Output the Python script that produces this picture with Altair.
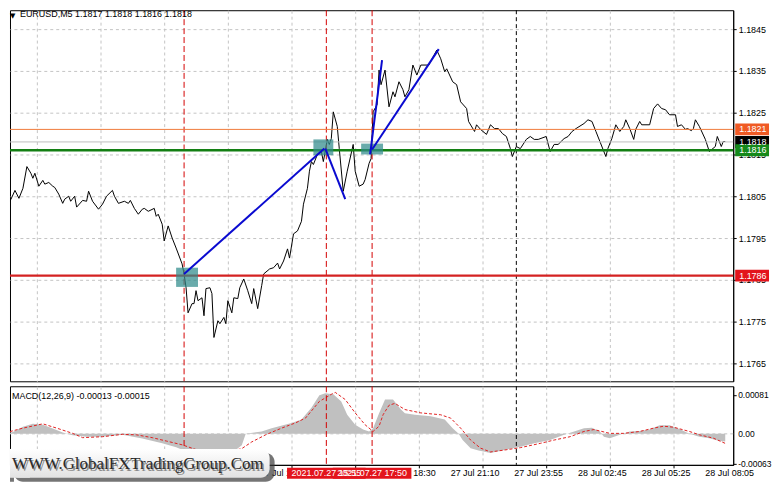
import altair as alt
import pandas as pd

# ---------------- data ----------------
bars = [0, 3, 5, 7, 9, 11, 13, 14, 15, 17,
        19, 20, 22, 24, 25, 27, 29, 30, 32, 33,
        35, 36, 39, 41, 42, 44, 47, 49, 51, 54,
        55, 57, 60, 62, 63, 65, 67, 69, 70, 72,
        75, 76, 77, 79, 80, 82, 84, 86, 89, 90,
        91, 92, 94, 95, 96, 97, 99, 100, 101, 103,
        104, 105, 107, 108, 110, 111, 112, 114, 115, 117,
        118, 120, 122, 124, 125, 127, 129, 130, 133, 135,
        137, 138, 140, 142, 143, 145, 147, 149, 150, 152,
        153, 154, 155, 157, 159, 160, 162, 163, 164, 165,
        167, 168, 170, 172, 175, 176, 178, 180, 181, 183,
        184, 185, 187, 188, 189, 191, 193, 195, 196, 198,
        200, 201, 203, 205, 207, 209, 213, 217, 219, 221,
        222, 225, 227, 229, 232, 233, 236, 237, 239, 242,
        244, 246, 248, 250, 252, 254, 255, 257, 259, 262,
        264, 266, 268, 272, 274, 276, 278, 281, 283, 285,
        287, 291, 293, 295, 297, 299, 302, 303, 305, 307,
        309, 311, 312, 314, 316, 317, 319, 320, 324, 326,
        328, 330, 332, 334, 337, 338, 340, 342, 343, 345,
        346, 347, 349, 352, 354, 357, 358, 360, 361, 362]
prices = [1.18024, 1.18043, 1.18064, 1.18045, 1.18069, 1.18121, 1.18105, 1.18093, 1.18105, 1.18074,
          1.18088, 1.18079, 1.18083, 1.18074, 1.18071, 1.18055, 1.18033, 1.18043, 1.18050, 1.18038,
          1.18050, 1.18024, 1.18040, 1.18038, 1.18062, 1.18038, 1.18019, 1.18031, 1.18050, 1.18064,
          1.18050, 1.18033, 1.18038, 1.18033, 1.18040, 1.18021, 1.18007, 1.18019, 1.18021, 1.18014,
          1.18021, 1.18002, 1.18007, 1.17983, 1.17943, 1.17979, 1.17950, 1.17926, 1.17888, 1.17864,
          1.17831, 1.17771, 1.17793, 1.17793, 1.17824, 1.17800, 1.17807, 1.17764, 1.17829, 1.17831,
          1.17817, 1.17712, 1.17752, 1.17745, 1.17760, 1.17745, 1.17800, 1.17771, 1.17807, 1.17805,
          1.17831, 1.17852, 1.17824, 1.17793, 1.17829, 1.17781, 1.17836, 1.17864, 1.17876, 1.17879,
          1.17890, 1.17876, 1.17895, 1.17924, 1.17902, 1.17960, 1.17967, 1.17990, 1.18031, 1.18069,
          1.18110, 1.18133, 1.18126, 1.18150, 1.18157, 1.18133, 1.18186, 1.18174, 1.18188, 1.18252,
          1.18217, 1.18164, 1.18062, 1.18110, 1.18174, 1.18110, 1.18074, 1.18079, 1.18090, 1.18129,
          1.18140, 1.18252, 1.18269, 1.18352, 1.18317, 1.18352, 1.18264, 1.18300, 1.18288, 1.18324,
          1.18305, 1.18288, 1.18305, 1.18364, 1.18340, 1.18364, 1.18364, 1.18400, 1.18379, 1.18348,
          1.18355, 1.18324, 1.18317, 1.18276, 1.18260, 1.18229, 1.18205, 1.18221, 1.18210, 1.18198,
          1.18221, 1.18212, 1.18212, 1.18200, 1.18193, 1.18164, 1.18145, 1.18169, 1.18164, 1.18186,
          1.18193, 1.18186, 1.18186, 1.18193, 1.18157, 1.18174, 1.18174, 1.18188, 1.18193, 1.18205,
          1.18212, 1.18224, 1.18233, 1.18229, 1.18205, 1.18181, 1.18145, 1.18164, 1.18188, 1.18221,
          1.18205, 1.18217, 1.18233, 1.18212, 1.18186, 1.18210, 1.18229, 1.18221, 1.18221, 1.18260,
          1.18271, 1.18260, 1.18257, 1.18245, 1.18245, 1.18217, 1.18221, 1.18210, 1.18212, 1.18207,
          1.18212, 1.18233, 1.18217, 1.18186, 1.18157, 1.18169, 1.18193, 1.18169, 1.18181, 1.18181]

hist_bars = [0, 4, 9, 14, 19, 24, 29, 34, 41, 49,
             59, 69, 79, 86, 90, 94, 99, 106, 114, 119,
             121, 129, 134, 144, 149, 154, 158, 161, 165, 169,
             172, 176, 180, 183, 185, 188, 191, 195, 199, 201,
             206, 214, 221, 225, 228, 230, 234, 238, 244, 251,
             259, 266, 274, 281, 286, 291, 295, 299, 301, 304,
             309, 314, 319, 324, 329, 334, 339, 344, 349, 354,
             359, 362]
hist_vals = [0.0, 0.00004, 0.00015, 0.00021, 0.00019, 0.00011, 0.00003, -0.00003, -0.00006, -0.00006,
             -0.00002, -0.0001, -0.0002, -0.00028, -0.00035, -0.00045, -0.0005, -0.00048, -0.0004, -0.00024,
             0.0, 0.00005, 0.00012, 0.00023, 0.0003, 0.00055, 0.00081, 0.00085, 0.00083, 0.00068,
             0.0004, 0.00019, 0.00009, 0.00005, 0.00012, 0.00043, 0.00072, 0.00072, 0.00051, 0.00043,
             0.0004, 0.00037, 0.0003, 0.00012, 0.0, -0.00013, -0.0003, -0.00035, -0.0004, -0.00034,
             -0.00027, -0.0002, -0.00013, -0.00002, 0.00005, 0.00012, 0.00013, 0.00005, -0.00006, -0.00009,
             -0.00002, 0.00005, 0.00006, 0.00009, 0.00018, 0.00018, 0.0001, 0.0, -0.00006, -0.00009,
             -0.00015, -0.00016]

sig_bars = [0, 9, 19, 26, 34, 39, 49, 59, 66, 74,
            81, 89, 96, 104, 111, 119, 124, 131, 139, 146,
            151, 158, 164, 166, 171, 176, 181, 185, 188, 190,
            193, 196, 201, 209, 219, 224, 229, 234, 239, 244,
            251, 259, 269, 276, 284, 291, 296, 304, 311, 319,
            326, 331, 336, 344, 349, 356, 362]
sig_vals = [0.00002, 0.00012, 0.00021, 0.00012, 0.00001, -0.00008, -0.00006, -0.00001, -0.00002, -0.00008,
            -0.00015, -0.00023, -0.00033, -0.0004, -0.00039, -0.00031, -0.00017, -0.00002, 0.00012, 0.00023,
            0.00033, 0.00068, 0.00083, 0.00087, 0.00072, 0.00044, 0.00019, 0.00005, 0.00016, 0.0004,
            0.0006, 0.00064, 0.00051, 0.00044, 0.0004, 0.00033, 0.00012, -0.00013, -0.0003, -0.00038,
            -0.00034, -0.00029, -0.0002, -0.00013, -0.00006, 0.00005, 0.00009, 0.00001, 0.00001, 0.00005,
            0.00012, 0.00016, 0.00014, 0.00005, -0.00002, -0.00009, -0.0002]

level_prices = [1.1821, 1.1818, 1.1816, 1.1786]
level_labels = ["1.1821", "1.1818", "1.1816", "1.1786"]
level_line_colors = ["#f07a3a", "#c0c0c0", "#137f13", "#d42222"]
level_box_colors = ["#f05a24", "#000000", "#15891a", "#e3141c"]
level_widths = [1, 1, 2.5, 2.5]

red_vline_bars = [90, 161.5, 184.5]
time_tag_bars = [161.5, 184.5]
time_tag_labels = ["2021.07.27 15:55", "2021.07.27 17:50"]
day_sep_bars = [257]

box_bar1 = [86, 155, 179]
box_bar2 = [97, 165, 190]
box_p1 = [1.17879, 1.18186, 1.18176]
box_p2 = [1.17833, 1.18148, 1.18150]

trend_bar1 = [90, 161, 183.5, 184.5]
trend_p1 = [1.17864, 1.18164, 1.18150, 1.18162]
trend_bar2 = [160.5, 171, 189.5, 218]
trend_p2 = [1.18164, 1.18043, 1.18376, 1.18402]

price_ticks = [1.1765, 1.1775, 1.1785, 1.1795, 1.1805, 1.1815, 1.1825, 1.1835, 1.1845]
macd_ticks = [0.00081, 0.0, -0.00063]
macd_tick_labels = ["0.00081", "0.00", "-0.00063"]
grid_bars = list(range(16, 366, 16))
label_bars = [128, 192, 224, 256, 288, 320, 352]
label_texts = ["27 Jul 13:10", "27 Jul 18:30", "27 Jul 21:10", "27 Jul 23:55", "28 Jul 02:45",
               "28 Jul 05:25", "28 Jul 08:05"]

title_text = "EURUSD,M5  1.1817 1.1818 1.1816 1.1818"
macd_text = "MACD(12,26,9) -0.00013 -0.00015"
watermark = "WWW.GlobalFXTradingGroup.Com"

# ---------------- layout ----------------
W, H1, H2 = 727, 373, 79
FONT = "Liberation Sans"
FS = 9

xscale = alt.Scale(domain=[2.5, 366], nice=False, zero=False)
yscale = alt.Scale(domain=[1.176071, 1.184952], nice=False, zero=False)
mscale = alt.Scale(domain=[-0.000651, 0.000999], nice=False, zero=False)

price_df = pd.DataFrame({"bar": bars, "price": prices})
hist_df = pd.DataFrame({"bar": hist_bars, "val": hist_vals})
sig_df = pd.DataFrame({"bar": sig_bars, "val": sig_vals})
lev_df = pd.DataFrame({"price": level_prices, "label": level_labels, "lc": level_line_colors,
                       "bc": level_box_colors, "lw": level_widths})
red_df = pd.DataFrame({"bar": red_vline_bars})
tag_df = pd.DataFrame({"bar": time_tag_bars, "label": time_tag_labels})
sep_df = pd.DataFrame({"bar": day_sep_bars})
box_df = pd.DataFrame({"b1": box_bar1, "b2": box_bar2, "p1": box_p1, "p2": box_p2})
trend_df = pd.DataFrame({"b1": trend_bar1, "b2": trend_bar2, "p1": trend_p1, "p2": trend_p2})
xlab_df = pd.DataFrame({"bar": label_bars, "t": label_texts})
mlab_df = pd.DataFrame({"v": macd_ticks, "t": macd_tick_labels})

grid_kw = dict(grid=True, gridDash=[3, 3], gridColor="#c4c4c4", gridWidth=1)

x_main_axis = alt.Axis(values=grid_bars, labels=False, ticks=False, domain=False, title=None,
                       orient="bottom", zindex=0, **grid_kw)
y_main_axis = alt.Axis(orient="right", values=price_ticks, format=".4f", title=None, tickSize=3,
                       labelPadding=2, tickColor="black", domainColor="black", labelColor="black",
                       labelFont=FONT, labelFontSize=FS, labelBaseline="middle",
                       labelOverlap=False, zindex=0, **grid_kw)

X = alt.X("bar:Q", scale=xscale, axis=x_main_axis)

line = alt.Chart(price_df).mark_line(color="black", strokeWidth=1, clip=True).encode(
    x=X, y=alt.Y("price:Q", scale=yscale, axis=y_main_axis))

red_v = alt.Chart(red_df).mark_rule(color="#d40000", strokeDash=[6, 3], strokeWidth=1).encode(
    x=alt.X("bar:Q", scale=xscale))
sep_v = alt.Chart(sep_df).mark_rule(color="black", strokeDash=[4, 3], strokeWidth=1).encode(
    x=alt.X("bar:Q", scale=xscale))

hlines = alt.Chart(lev_df).mark_rule().encode(
    y=alt.Y("price:Q", scale=yscale),
    color=alt.Color("lc:N", scale=None),
    strokeWidth=alt.StrokeWidth("lw:Q", scale=None))

boxes = alt.Chart(box_df).mark_rect(color="#2f8a8a", opacity=0.72).encode(
    x=alt.X("b1:Q", scale=xscale), x2="b2:Q",
    y=alt.Y("p1:Q", scale=yscale), y2="p2:Q")

trends = alt.Chart(trend_df).mark_rule(color="#0a0ad0", strokeWidth=2).encode(
    x=alt.X("b1:Q", scale=xscale), x2="b2:Q",
    y=alt.Y("p1:Q", scale=yscale), y2="p2:Q")

lab_boxes = alt.Chart(lev_df).mark_rect(yOffset=-6, y2Offset=6).encode(
    x=alt.value(W + 2), x2=alt.value(W + 36),
    y=alt.Y("price:Q", scale=yscale), y2="price:Q",
    color=alt.Color("bc:N", scale=None))
lab_text = alt.Chart(lev_df).mark_text(align="left", baseline="middle", color="white",
                                       font=FONT, fontSize=FS).encode(
    x=alt.value(W + 6), y=alt.Y("price:Q", scale=yscale), text="label:N")

title_df = pd.DataFrame({"t": [title_text]})
tri = alt.Chart(title_df).mark_text(text="\u25bc", align="left", baseline="top",
                                    font="DejaVu Sans", fontSize=7, color="black").encode(
    x=alt.value(0), y=alt.value(2))
ttl = alt.Chart(title_df).mark_text(align="left", baseline="top", font=FONT,
                                    fontSize=FS, color="black").encode(
    x=alt.value(10), y=alt.value(0), text="t:N")

main = alt.layer(line, red_v, sep_v, hlines, boxes, trends, lab_boxes, lab_text, tri, ttl).properties(
    width=W, height=H1)

# MACD panel
x_macd_axis = alt.Axis(values=grid_bars, labels=False, title=None, orient="bottom",
                       tickSize=3, tickColor="black", domainColor="black", zindex=0, **grid_kw)
y_macd_axis = alt.Axis(orient="right", values=macd_ticks, labels=False, title=None, tickSize=3,
                       tickColor="black", domainColor="black", grid=False, zindex=0)

hist = alt.Chart(hist_df).mark_area(color="#c0c0c0", clip=True).encode(
    x=alt.X("bar:Q", scale=xscale, axis=x_macd_axis),
    y=alt.Y("val:Q", scale=mscale, axis=y_macd_axis))
zero_df = pd.DataFrame({"v": [0.0]})
zero = alt.Chart(zero_df).mark_rule(color="#c4c4c4", strokeDash=[3, 3]).encode(
    y=alt.Y("v:Q", scale=mscale))
sig = alt.Chart(sig_df).mark_line(color="#e02020", strokeDash=[3, 2], strokeWidth=1, clip=True).encode(
    x=alt.X("bar:Q", scale=xscale), y=alt.Y("val:Q", scale=mscale))
red_v2 = alt.Chart(red_df).mark_rule(color="#d40000", strokeDash=[6, 3], strokeWidth=1).encode(
    x=alt.X("bar:Q", scale=xscale))
sep_v2 = alt.Chart(sep_df).mark_rule(color="black", strokeDash=[4, 3], strokeWidth=1).encode(
    x=alt.X("bar:Q", scale=xscale))
macd_lbl = alt.Chart(pd.DataFrame({"t": [macd_text]})).mark_text(
    align="left", baseline="middle", font=FONT, fontSize=FS, color="black").encode(
    x=alt.value(2), y=alt.value(10), text="t:N")

mlab = alt.Chart(mlab_df).mark_text(align="left", baseline="middle", font=FONT, fontSize=8.5,
                                    color="black").encode(
    x=alt.value(W + 5), y=alt.Y("v:Q", scale=mscale), text="t:N")
xlab = alt.Chart(xlab_df).mark_text(align="left", baseline="top", font=FONT, fontSize=FS,
                                    color="black").encode(
    x=alt.X("bar:Q", scale=xscale), y=alt.value(H2 + 4), text="t:N")

time_boxes = alt.Chart(tag_df).mark_rect(color="#e3141c", xOffset=-39.5, x2Offset=39.5).encode(
    x=alt.X("bar:Q", scale=xscale), x2="bar:Q", y=alt.value(H2 + 3), y2=alt.value(H2 + 14))
time_text = alt.Chart(tag_df).mark_text(color="white", font=FONT, fontSize=FS, align="center",
                                        baseline="middle").encode(
    x=alt.X("bar:Q", scale=xscale), y=alt.value(H2 + 8.5), text="label:N")

wm_df = pd.DataFrame({"t": [watermark]})
wm_shadow = alt.Chart(wm_df).mark_rect(color="#3a3a3a", opacity=0.7, cornerRadius=9).encode(
    x=alt.value(4), x2=alt.value(266), y=alt.value(67), y2=alt.value(96))
wm_shadow_l = alt.Chart(wm_df).mark_rect(color="#3a3a3a", opacity=0.7).encode(
    x=alt.value(0), x2=alt.value(4), y=alt.value(91), y2=alt.value(96))
grad = alt.Gradient(gradient="linear", x1=0, y1=0, x2=0, y2=1,
                    stops=[alt.GradientStop(color="#ffffff", offset=0),
                           alt.GradientStop(color="#e2e2e2", offset=1)])
wm_box = alt.Chart(wm_df).mark_rect(cornerRadius=9, fill=grad).encode(
    x=alt.value(0), x2=alt.value(261), y=alt.value(63), y2=alt.value(92))
wm_box_l = alt.Chart(wm_df).mark_rect(fill=grad).encode(
    x=alt.value(0), x2=alt.value(20), y=alt.value(63), y2=alt.value(92))
wm_text_sh = alt.Chart(wm_df).mark_text(font="Liberation Serif", fontSize=17, color="#8a8a8a",
                                        align="center", baseline="middle").encode(
    x=alt.value(130), y=alt.value(80), text="t:N")
wm_text = alt.Chart(wm_df).mark_text(font="Liberation Serif", fontSize=17, color="#2a2a2a",
                                     align="center", baseline="middle").encode(
    x=alt.value(128.5), y=alt.value(78.5), text="t:N")

macd = alt.layer(hist, zero, sig, red_v2, sep_v2, macd_lbl, mlab, xlab, time_boxes, time_text,
                 wm_shadow, wm_shadow_l, wm_box, wm_box_l, wm_text_sh, wm_text).properties(
    width=W, height=H2)

chart = alt.vconcat(main, macd, spacing=3).properties(
    padding={"left": 0, "top": 0, "right": 0, "bottom": 0},
    background="white"
).configure_view(stroke="black", strokeWidth=1).configure_axis(labelFont=FONT)

chart.save("out.html", embed_options={"renderer": "svg", "actions": False})
